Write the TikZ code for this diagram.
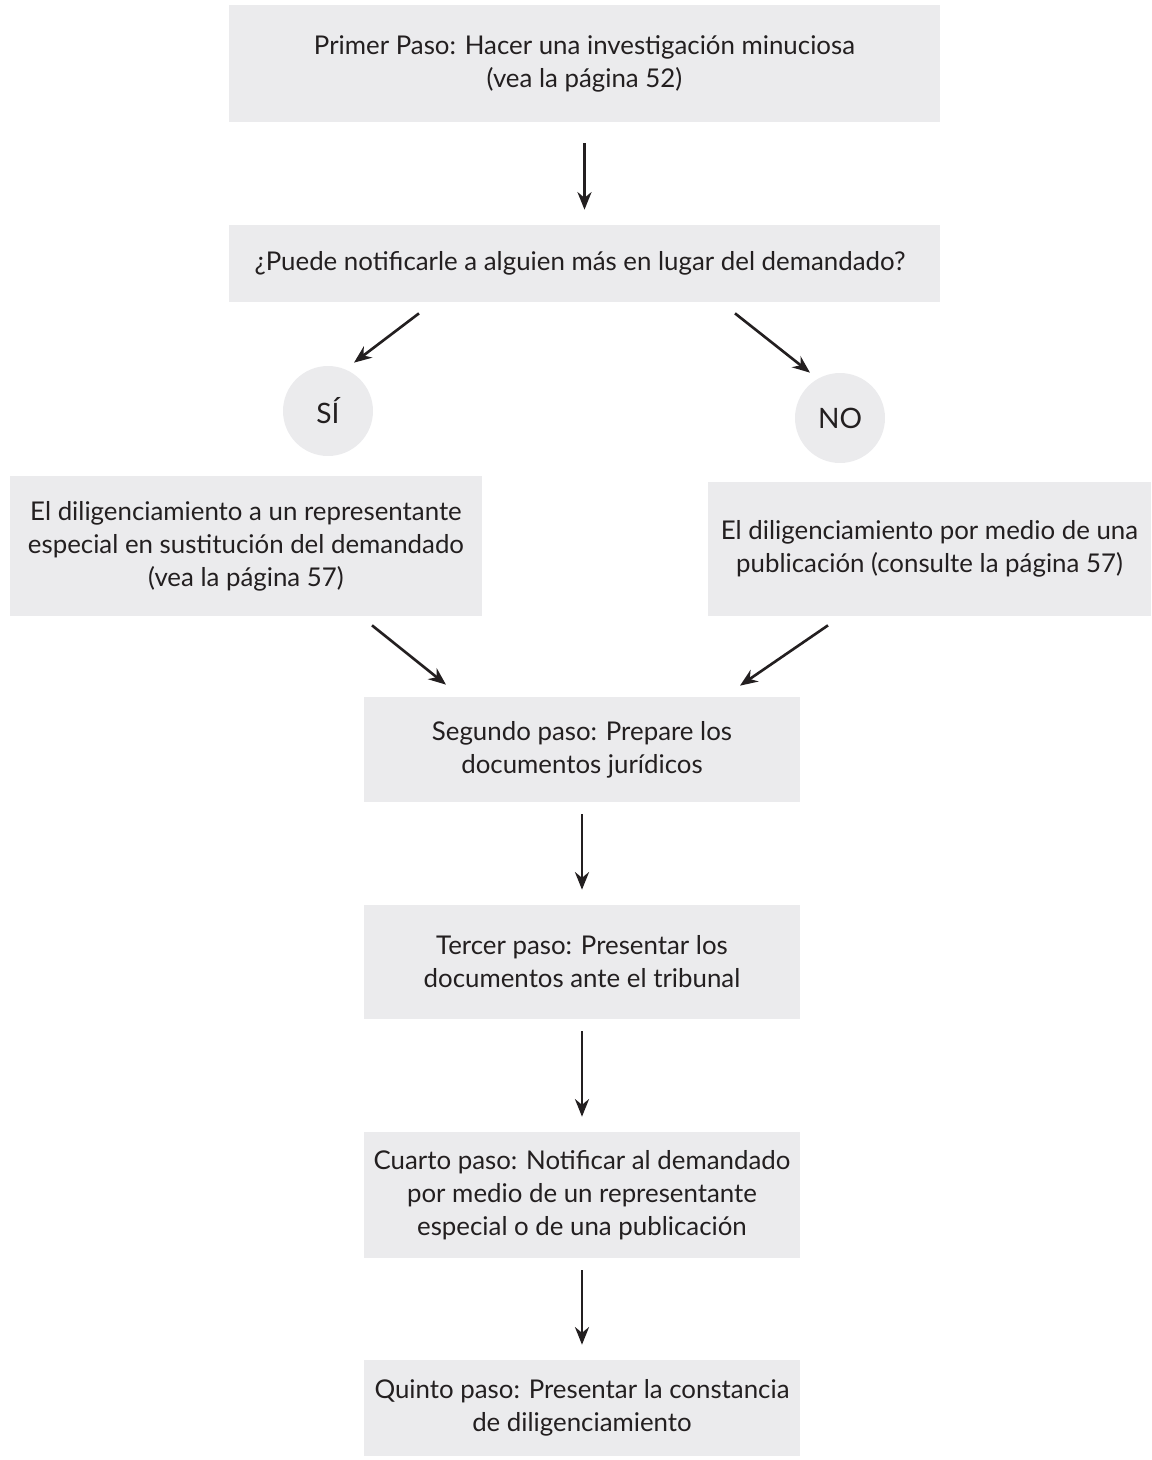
\documentclass[tikz,border=0pt]{standalone}
\usepackage{fontspec}
\setmainfont{Lato}
\definecolor{boxgray}{RGB}{235, 235, 237}
\definecolor{inkgray}{RGB}{35, 31, 32}
\usepackage{tikz}
\usetikzlibrary{arrows.meta, positioning, calc}

\tikzset{
  stepbox/.style={fill=boxgray, inner sep=0pt, align=center, text=inkgray,
    font=\fontsize{14.7}{18.8}\selectfont},
  answer/.style={circle, fill=boxgray, minimum size=1.8cm, inner sep=0pt, text=inkgray,
    font=\fontsize{16}{18}\selectfont},
  flow/.style={-{Stealth[length=10pt, width=8pt]}, line width=1.5pt, inkgray,
    shorten <=0.24cm, shorten >=0.3cm},
  slant/.style={flow, shorten <=0pt, shorten >=0pt}
}

\begin{document}
\begin{tikzpicture}
  \useasboundingbox (0,0) rectangle (23.02,-29.2);

  % First step and question
  \node[stepbox, minimum width=14.22cm, minimum height=2.34cm] (first) at (11.69,-1.27) {
    Primer Paso: Hacer una investigación minuciosa\\
    (vea la página 52)
  };
  \node[stepbox, minimum width=14.22cm, minimum height=1.54cm] (ask) at (11.69,-5.27) {
    ¿Puede notificarle a alguien más en lugar del demandado?
  };

  % Answers
  \node[answer] (si) at (6.56,-8.22) {SÍ};
  \node[answer] (no) at (16.80,-8.36) {NO};

  % Two ways of service
  \node[stepbox, minimum width=9.44cm, minimum height=2.80cm] (special) at (4.92,-10.92) {
    El diligenciamiento a un representante\\
    especial en sustitución del demandado\\
    (vea la página 57)
  };
  \node[stepbox, minimum width=8.86cm, minimum height=2.68cm] (publish) at (18.59,-10.98) {
    El diligenciamiento por medio de una\\
    publicación (consulte la página 57)
  };

  % Remaining steps
  \node[stepbox, minimum width=8.72cm, minimum height=2.10cm] (second) at (11.64,-14.99) {
    Segundo paso: Prepare los\\
    documentos jurídicos
  };
  \node[stepbox, minimum width=8.72cm, minimum height=2.28cm] (third) at (11.64,-19.24) {
    Tercer paso: Presentar los\\
    documentos ante el tribunal
  };
  \node[stepbox, minimum width=8.72cm, minimum height=2.52cm] (fourth) at (11.64,-23.90) {
    Cuarto paso: Notificar al demandado\\
    por medio de un representante\\
    especial o de una publicación
  };
  \node[stepbox, minimum width=8.72cm, minimum height=1.92cm] (fifth) at (11.64,-28.16) {
    Quinto paso: Presentar la constancia\\
    de diligenciamiento
  };

  % Arrows
  \draw[flow, shorten <=0.42cm] (first) -- (ask);
  \draw[slant] ([xshift=-3.31cm, yshift=-0.22cm]ask.south) -- ([xshift=0.52cm, yshift=0.06cm]si.north);
  \draw[slant] ([xshift=3.01cm, yshift=-0.22cm]ask.south) -- ([xshift=-0.6cm]no.north);
  \draw[slant] ([xshift=2.52cm, yshift=-0.18cm]special.south) -- ([xshift=-2.72cm, yshift=0.24cm]second.north);
  \draw[slant] ([xshift=-2.03cm, yshift=-0.18cm]publish.south) -- ([xshift=3.16cm, yshift=0.22cm]second.north);
  \draw[flow] (second) -- (third);
  \draw[flow] (third) -- (fourth);
  \draw[flow] (fourth) -- (fifth);
\end{tikzpicture}
\end{document}
